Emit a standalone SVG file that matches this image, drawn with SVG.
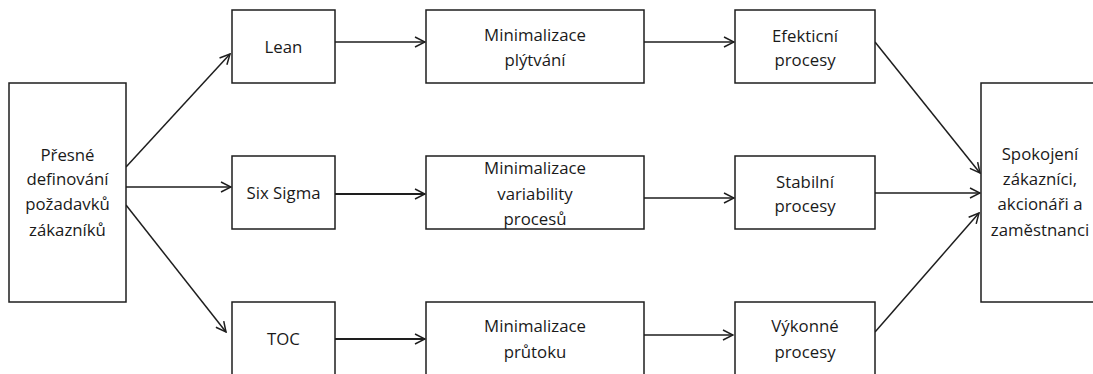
<svg xmlns="http://www.w3.org/2000/svg" width="1093" height="374" viewBox="0 0 1093 374">
  <style>
    .box { fill: #fff; stroke: #1e1e1e; stroke-width: 1.5; }
    .lbl { font-family: "Open Sans", "Liberation Sans", sans-serif; font-size: 16.8px; fill: #1a1a1a; text-anchor: middle; }
    .conn { stroke: #1e1e1e; stroke-width: 1.5; fill: none; marker-end: url(#arrow); }
  </style>
  <defs>
    <marker id="arrow" viewBox="0 0 12 12" refX="11" refY="6" markerWidth="12" markerHeight="12" markerUnits="userSpaceOnUse" orient="auto">
      <path d="M1,1 L11,6 L1,11" fill="none" stroke="#1e1e1e" stroke-width="1.5"/>
    </marker>
  </defs>
  <rect width="1093" height="374" fill="#fff"/>

  <g id="connectors">
    <line class="conn" x1="126" y1="167" x2="230" y2="54"/>
    <line class="conn" x1="126" y1="187" x2="231" y2="187"/>
    <line class="conn" x1="126" y1="205" x2="226" y2="332"/>
    <line class="conn" x1="335" y1="42" x2="425" y2="42"/>
    <line class="conn" x1="335" y1="194" x2="425" y2="194" style="stroke-width:2.2"/>
    <line class="conn" x1="335" y1="339" x2="425" y2="339" style="stroke-width:1.8"/>
    <line class="conn" x1="644" y1="42" x2="734" y2="42"/>
    <line class="conn" x1="644" y1="198" x2="734" y2="198"/>
    <line class="conn" x1="644" y1="335" x2="733" y2="335"/>
    <line class="conn" x1="875" y1="42" x2="980" y2="173"/>
    <line class="conn" x1="875" y1="193" x2="980" y2="193"/>
    <line class="conn" x1="875" y1="332" x2="979" y2="213"/>
  </g>

  <g id="requirements">
    <rect class="box" x="9" y="83" width="117" height="219"/>
    <text class="lbl" x="67.5" y="161">Přesné</text>
    <text class="lbl" x="67.5" y="185">definování</text>
    <text class="lbl" x="67.5" y="210">požadavků</text>
    <text class="lbl" x="67.5" y="236">zákazníků</text>
  </g>

  <g id="lean">
    <rect class="box" x="232" y="10" width="103" height="73"/>
    <text class="lbl" x="283.5" y="53">Lean</text>
  </g>
  <g id="six-sigma">
    <rect class="box" x="232" y="156" width="103" height="73"/>
    <text class="lbl" x="283.5" y="199">Six Sigma</text>
  </g>
  <g id="toc">
    <rect class="box" x="232" y="302" width="103" height="80"/>
    <text class="lbl" x="283.5" y="345">TOC</text>
  </g>

  <g id="waste">
    <rect class="box" x="426" y="10" width="218" height="73"/>
    <text class="lbl" x="535" y="41">Minimalizace</text>
    <text class="lbl" x="535" y="66">plýtvání</text>
  </g>
  <g id="variability">
    <rect class="box" x="426" y="156" width="218" height="73"/>
    <text class="lbl" x="535" y="174">Minimalizace</text>
    <text class="lbl" x="535" y="200">variability</text>
    <text class="lbl" x="535" y="225">procesů</text>
  </g>
  <g id="throughput">
    <rect class="box" x="426" y="302" width="218" height="80"/>
    <text class="lbl" x="535" y="332">Minimalizace</text>
    <text class="lbl" x="535" y="358">průtoku</text>
  </g>

  <g id="efficient">
    <rect class="box" x="735" y="10" width="140" height="73"/>
    <text class="lbl" x="805" y="42">Efekticní</text>
    <text class="lbl" x="805" y="66">procesy</text>
  </g>
  <g id="stable">
    <rect class="box" x="735" y="156" width="140" height="73"/>
    <text class="lbl" x="805" y="188">Stabilní</text>
    <text class="lbl" x="805" y="212">procesy</text>
  </g>
  <g id="performing">
    <rect class="box" x="735" y="302" width="140" height="80"/>
    <text class="lbl" x="805" y="332">Výkonné</text>
    <text class="lbl" x="805" y="358">procesy</text>
  </g>

  <g id="satisfied">
    <rect class="box" x="981" y="83" width="130" height="219"/>
    <text class="lbl" x="1040" y="160">Spokojení</text>
    <text class="lbl" x="1040" y="185">zákazníci,</text>
    <text class="lbl" x="1040" y="210">akcionáři a</text>
    <text class="lbl" x="1040" y="236">zaměstnanci</text>
  </g>
</svg>
